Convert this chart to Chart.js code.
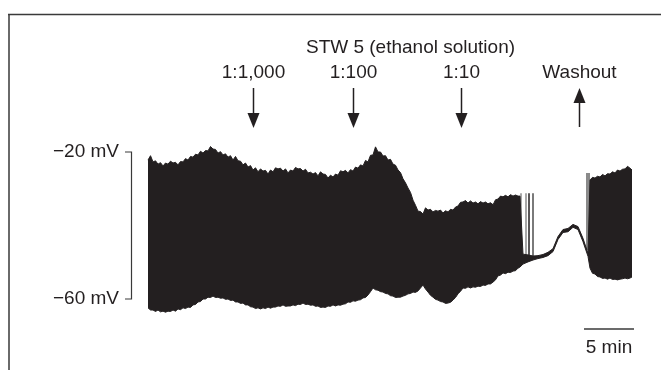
<!DOCTYPE html>
<html>
<head>
<meta charset="utf-8">
<script src="https://cdn.jsdelivr.net/npm/chart.js@4.4.0/dist/chart.umd.min.js"></script>
<style>
  html, body { margin: 0; padding: 0; background: #fff; }
  #wrap { position: relative; width: 661px; height: 370px; }
</style>
</head>
<body>
<div id="wrap"><canvas id="trace"></canvas></div>
<script>
// Membrane potential trace (min, mV) - upper and lower envelope of the recording
const timeMin = [
  0, 0.25, 0.5, 0.75, 1, 1.25, 1.5, 1.75, 2, 2.25, 2.5, 2.75, 3, 3.25, 3.5, 3.75, 4, 4.25, 4.5, 4.75,
  5, 5.25, 5.5, 5.75, 6, 6.25, 6.5, 6.75, 7, 7.25, 7.5, 7.75, 8, 8.25, 8.5, 8.75, 9, 9.25, 9.5, 9.75,
  10, 10.25, 10.5, 10.75, 11, 11.25, 11.5, 11.75, 12, 12.25, 12.5, 12.75, 13, 13.25, 13.5, 13.75, 14, 14.25, 14.5, 14.75,
  15, 15.25, 15.5, 15.75, 16, 16.25, 16.5, 16.75, 17, 17.25, 17.5, 17.75, 18, 18.25, 18.5, 18.75, 19, 19.25, 19.5, 19.75,
  20, 20.25, 20.5, 20.75, 21, 21.25, 21.5, 21.75, 22, 22.25, 22.5, 22.75, 23, 23.25, 23.5, 23.75, 24, 24.25, 24.5, 24.75,
  25, 25.25, 25.5, 25.75, 26, 26.25, 26.5, 26.75, 27, 27.25, 27.5, 27.75, 28, 28.25, 28.5, 28.75, 29, 29.25, 29.5, 29.75,
  30, 30.25, 30.5, 30.75, 31, 31.25, 31.5, 31.75, 32, 32.25, 32.5, 32.75, 33, 33.25, 33.5, 33.75, 34, 34.25, 34.5, 34.75,
  35, 35.25, 35.5, 35.75, 36, 36.25, 36.5, 36.75, 37, 37.2,
  37.5, 38, 38.5, 39, 39.5, 40, 40.5, 41, 41.5, 42, 42.5, 43, 43.5, 44,
  44.2, 44.45, 44.7, 44.95, 45.2, 45.45, 45.7, 45.95, 46.2, 46.45, 46.7, 46.95, 47.2, 47.45, 47.7, 47.95, 48.2, 48.4
];
const upperMv = [
  -22.2, -21.0, -22.7, -22.4, -23.3, -22.9, -23.8, -23.0, -23.3, -22.5,
  -23.0, -22.8, -23.5, -22.6, -22.7, -21.8, -22.2, -21.2, -21.4, -20.6,
  -20.8, -19.8, -20.3, -19.6, -19.7, -18.5, -19.2, -19.3, -20.3, -19.9,
  -20.8, -20.5, -21.4, -21.0, -22.2, -21.2, -22.4, -22.5, -23.5, -23.0,
  -24.1, -23.7, -24.9, -24.3, -25.4, -24.6, -25.2, -25.0, -26.0, -24.9,
  -25.4, -24.3, -24.6, -24.4, -25.2, -24.6, -25.7, -24.9, -25.2, -24.2,
  -24.6, -24.5, -25.2, -24.7, -25.7, -25.5, -26.0, -25.6, -26.5, -25.4,
  -26.0, -26.1, -27.1, -26.3, -26.8, -26.0, -26.3, -25.1, -25.4, -25.0,
  -25.7, -24.8, -25.2, -24.1, -24.4, -23.5, -23.8, -22.3, -22.7, -20.9,
  -20.8, -18.6, -20.0, -20.0, -21.1, -21.0, -22.2, -22.0, -23.3, -23.6,
  -24.9, -25.6, -27.3, -28.4, -29.8, -31.0, -33.1, -34.5, -36.1, -36.2,
  -36.9, -35.2, -35.8, -35.6, -36.3, -35.9, -36.1, -35.8, -36.6, -36.0,
  -36.3, -35.6, -35.8, -35.0, -34.7, -33.7, -33.6, -33.2, -33.9, -33.3,
  -33.9, -33.6, -34.1, -33.5, -33.9, -33.6, -34.1, -33.8, -34.4, -33.0,
  -32.8, -32.0, -32.2, -31.8, -32.2, -31.6, -32.0, -31.7, -32.0, -32.0,
  -47.8, -48.0, -48.3, -48.2, -47.9, -47.3, -46.3, -43.0, -41.1, -40.8, -39.7, -40.3, -43.5, -47.6,
  -27.6, -26.9, -27.1, -26.6, -26.8, -26.1, -26.5, -25.9, -26.0, -25.4, -25.7, -24.9, -25.2, -24.7, -24.6, -23.9, -24.4, -24.9
];
const lowerMv = [
  -62.4, -63.0, -63.0, -63.4, -63.0, -63.5, -63.3, -63.6, -63.3, -63.4,
  -63.0, -63.3, -62.7, -62.9, -62.4, -62.6, -62.2, -62.3, -61.6, -61.5,
  -60.8, -60.7, -60.0, -60.0, -59.5, -59.6, -59.2, -59.6, -59.5, -59.8,
  -59.7, -60.1, -60.0, -60.4, -60.3, -60.8, -60.8, -61.2, -61.1, -61.6,
  -61.6, -62.1, -62.2, -62.6, -62.4, -62.7, -62.4, -62.6, -62.2, -62.5,
  -62.2, -62.2, -61.9, -62.0, -61.6, -62.0, -61.9, -61.9, -61.6, -61.8,
  -61.4, -61.5, -61.1, -61.5, -61.4, -61.7, -61.6, -62.0, -61.9, -62.3,
  -62.2, -62.3, -61.9, -62.0, -61.6, -61.9, -61.6, -61.7, -61.4, -61.3,
  -60.8, -60.9, -60.5, -60.6, -60.3, -60.2, -59.7, -59.6, -58.9, -58.0,
  -57.0, -57.5, -57.6, -58.0, -58.1, -58.5, -58.6, -59.1, -59.2, -59.6,
  -59.5, -59.5, -59.2, -59.0, -58.6, -58.5, -58.1, -58.2, -57.8, -57.0,
  -56.2, -57.3, -58.1, -59.0, -59.5, -60.1, -60.3, -60.7, -60.8, -61.2,
  -61.1, -60.9, -60.3, -59.6, -58.6, -57.9, -57.0, -57.1, -56.7, -57.0,
  -56.7, -56.8, -56.5, -56.6, -56.2, -56.3, -55.9, -55.9, -55.4, -54.8,
  -53.7, -53.5, -52.9, -53.1, -52.7, -52.8, -52.4, -52.3, -51.6, -51.3,
  -50.5, -49.9, -49.4, -49.0, -48.7, -48.2, -47.1, -43.8, -41.9, -41.7, -40.5, -41.1, -44.4, -48.4,
  -51.6, -53.0, -53.2, -53.9, -54.0, -54.4, -54.3, -54.6, -54.3, -54.7, -54.6, -54.8, -54.6, -54.5, -54.3, -54.5, -54.3, -54.0
];

// single spikes drawn as vertical strokes (min, mV)
const spikeTimes = [34.5, 37.3, 37.8, 38.1, 38.5, 44.0];
const spikeHigh = [-33.9, -31.2, -31.2, -31.2, -31.2, -25.7];
const spikeLow = [-41.2, -48.6, -48.6, -48.6, -48.6, -46.7];

// drug applications
const doseLabels = ['1:1,000', '1:100', '1:10', 'Washout'];
const doseTimes = [10.5, 20.5, 31.3, 43.1];
const doseUp = [false, false, false, true];

// calibration bars
const voltBar = [-20, -60];
const voltLabels = ['\u221220 mV', '\u221260 mV'];
const timeBar = [43.6, 48.6];
const timeBarLabel = '5 min';

// styling
const INK = '#231f20';
const spikeColor = ['#c9c9c9', '#8c8c8c', '#8c8c8c', INK, '#7a7a7a', '#8a8a8a'];
const spikeWidth = [1, 1.5, 1.5, 1.5, 2, 4];
const FONT = '"Liberation Sans", Arial, Helvetica, sans-serif';

const envelopeUpper = timeMin.map((t, i) => ({ x: t, y: upperMv[i] }));
const envelopeLower = timeMin.map((t, i) => ({ x: t, y: lowerMv[i] }));

const spikeSets = spikeTimes.map((t, i) => ({
  data: [{ x: t, y: spikeHigh[i] }, { x: t, y: spikeLow[i] }],
  borderColor: spikeColor[i],
  borderWidth: spikeWidth[i],
  pointRadius: 0,
  fill: false
}));

const overlay = {
  id: 'overlay',
  afterDraw(chart) {
    const { ctx, scales: { x, y } } = chart;
    ctx.save();
    ctx.strokeStyle = '#3a3a3a';
    ctx.lineWidth = 1.5;
    // frame
    ctx.beginPath();
    ctx.moveTo(8, 14.5);
    ctx.lineTo(661, 14.5);
    ctx.moveTo(9, 14);
    ctx.lineTo(9, 370);
    ctx.stroke();

    ctx.fillStyle = INK;
    ctx.strokeStyle = INK;
    ctx.textAlign = 'center';
    ctx.textBaseline = 'alphabetic';
    ctx.font = '19px ' + FONT;
    ctx.fillText('STW 5 (ethanol solution)', 410.5, 53);

    doseTimes.forEach((t, i) => {
      const px = Math.round(x.getPixelForValue(t)) + 0.5;
      ctx.fillText(doseLabels[i], px, 77.5);
      ctx.lineWidth = 1.5;
      ctx.beginPath();
      if (doseUp[i]) {
        ctx.moveTo(px, 100);
        ctx.lineTo(px, 127);
      } else {
        ctx.moveTo(px, 88);
        ctx.lineTo(px, 115);
      }
      ctx.stroke();
      ctx.beginPath();
      if (doseUp[i]) {
        ctx.moveTo(px, 88);
        ctx.lineTo(px - 6, 103);
        ctx.lineTo(px + 6, 103);
      } else {
        ctx.moveTo(px, 128);
        ctx.lineTo(px - 6, 113);
        ctx.lineTo(px + 6, 113);
      }
      ctx.closePath();
      ctx.fill();
    });

    // voltage calibration bracket
    const yTop = y.getPixelForValue(voltBar[0]);
    const yBot = y.getPixelForValue(voltBar[1]);
    ctx.strokeStyle = '#3a3a3a';
    ctx.lineWidth = 1.2;
    ctx.beginPath();
    ctx.moveTo(125, yTop);
    ctx.lineTo(131.5, yTop);
    ctx.lineTo(131.5, yBot);
    ctx.lineTo(125, yBot);
    ctx.stroke();
    ctx.textAlign = 'right';
    ctx.textBaseline = 'middle';
    ctx.fillText(voltLabels[0], 119, yTop);
    ctx.fillText(voltLabels[1], 119, yBot);

    // time calibration bar
    const x0 = x.getPixelForValue(timeBar[0]);
    const x1 = x.getPixelForValue(timeBar[1]);
    ctx.lineWidth = 1.5;
    ctx.beginPath();
    ctx.moveTo(x0, 329);
    ctx.lineTo(x1, 329);
    ctx.stroke();
    ctx.textAlign = 'center';
    ctx.textBaseline = 'alphabetic';
    ctx.fillText(timeBarLabel, (x0 + x1) / 2, 353);
    ctx.restore();
  }
};

new Chart(document.getElementById('trace'), {
  type: 'line',
  data: {
    datasets: [
      {
        data: envelopeUpper,
        borderColor: INK,
        borderWidth: 1,
        pointRadius: 0,
        fill: false
      },
      {
        data: envelopeLower,
        borderColor: INK,
        borderWidth: 1,
        backgroundColor: INK,
        pointRadius: 0,
        fill: '-1'
      },
      ...spikeSets
    ]
  },
  options: {
    responsive: true,
    maintainAspectRatio: false,
    animation: false,
    events: [],
    layout: { padding: 0 },
    elements: { line: { tension: 0 } },
    plugins: { legend: { display: false }, tooltip: { enabled: false } },
    scales: {
      x: { type: 'linear', display: false, min: -14.8, max: 51.3 },
      y: { type: 'linear', display: false, min: -79.32, max: 21.36 }
    }
  },
  plugins: [overlay]
});
</script>
</body>
</html>
